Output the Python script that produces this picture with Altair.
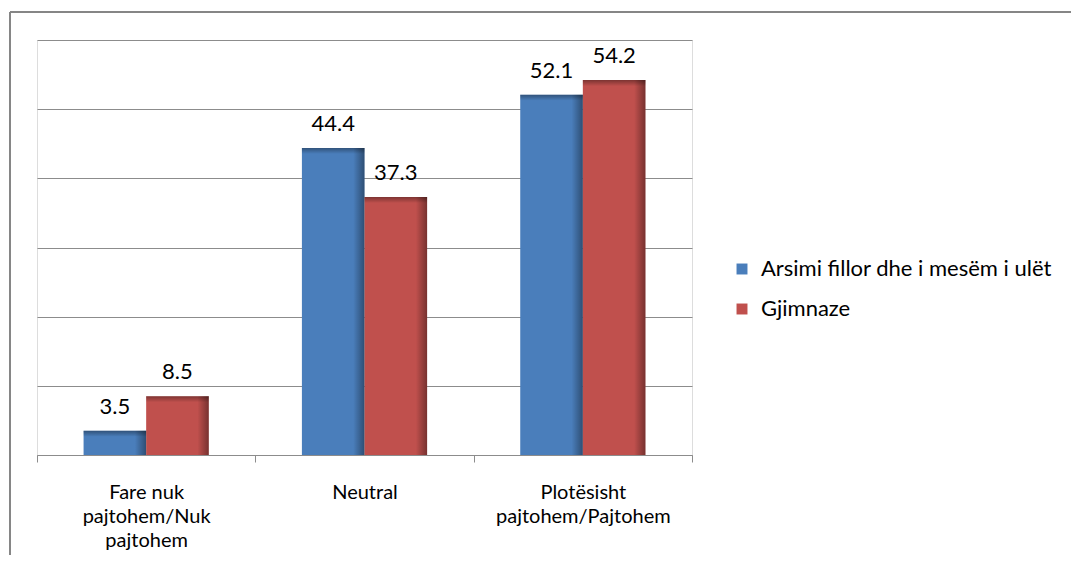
import altair as alt
import pandas as pd

categories = ["Fare nuk\npajtohem/Nuk\npajtohem", "Neutral", "Plotësisht\npajtohem/Pajtohem"]
series = ["Arsimi fillor dhe i mesëm i ulët", "Gjimnaze"]
values_primary = [3.5, 44.4, 52.1]
values_gym = [8.5, 37.3, 54.2]
colors = ["#4a7ebb", "#c0504d"]

rows = []
for c, v in zip(categories, values_primary):
    rows.append({"cat": c, "series": series[0], "value": v})
for c, v in zip(categories, values_gym):
    rows.append({"cat": c, "series": series[1], "value": v})
df = pd.DataFrame(rows)

FONT = "Lato"
FS = 22

x_enc = alt.X("cat:N", sort=categories, title=None,
              scale=alt.Scale(paddingInner=0, paddingOuter=0),
              axis=alt.Axis(labelAngle=0, labelExpr="split(datum.label, '\\n')",
                            tickBand="extent", domainColor="#8c8c8c", tickColor="#8c8c8c",
                            tickSize=7, labelPadding=20, labelFontSize=20, labelLineHeight=24,
                            labelColor="#000000", labelFont=FONT, grid=False,
                            labelBaseline="top", labelLimit=0))
xoff = alt.XOffset("series:N", sort=series, scale=alt.Scale(paddingInner=0, paddingOuter=0.744))
y_enc = alt.Y("value:Q", title=None,
              scale=alt.Scale(domain=[0, 60], nice=False),
              axis=alt.Axis(values=[0, 10, 20, 30, 40, 50, 60], labels=False, ticks=False,
                            domain=False, grid=True, gridColor="#8c8c8c", gridWidth=1.2))

base = alt.Chart(df).encode(x=x_enc, xOffset=xoff)

bars = base.mark_bar().encode(
    y=y_enc,
    color=alt.Color("series:N", sort=series, scale=alt.Scale(domain=series, range=colors),
                    legend=alt.Legend(title=None, orient="none", legendX=694, legendY=218,
                                      symbolType="square", symbolSize=120, labelFontSize=FS,
                                      labelFont=FONT, labelColor="#000000", rowPadding=18,
                                      labelOffset=8, padding=0, symbolStrokeWidth=0,
                                      labelLimit=0)),
)

shade_right = base.mark_bar(color={
    "gradient": "linear", "x1": 0, "x2": 1, "y1": 0, "y2": 0,
    "stops": [{"offset": 0, "color": "rgba(0,0,0,0)"},
              {"offset": 0.82, "color": "rgba(0,0,0,0)"},
              {"offset": 1, "color": "rgba(0,0,0,0.38)"}]}).encode(y=alt.Y("value:Q"))

shade_top = base.mark_bar(y2Offset=6, color={
    "gradient": "linear", "x1": 0, "x2": 0, "y1": 0, "y2": 1,
    "stops": [{"offset": 0, "color": "rgba(0,0,0,0.35)"},
              {"offset": 1, "color": "rgba(0,0,0,0)"}]}).encode(
    y=alt.Y("value:Q"), y2=alt.Y2("value:Q"))

labels = base.mark_text(font=FONT, fontSize=FS, color="#000000", baseline="alphabetic",
                        align="center", dy=-17).encode(
    y=alt.Y("value:Q"), text=alt.Text("value:Q", format=".1f"))

frame_df = pd.DataFrame({"k": [0]})
frame_left = alt.Chart(frame_df).mark_rule(color="#868686", strokeWidth=2).encode(
    x=alt.value(-27), y=alt.value(-28), y2=alt.value(700))
frame_top = alt.Chart(frame_df).mark_rule(color="#868686", strokeWidth=2).encode(
    y=alt.value(-28), x=alt.value(-27), x2=alt.value(1200))

chart = alt.layer(bars, shade_right, shade_top, labels, frame_left, frame_top).properties(
    width=655, height=415,
    autosize=alt.AutoSizeParams(type="none"),
    padding={"left": 29, "top": 32, "right": 379, "bottom": 100},
).configure_view(stroke=None).configure(background="#ffffff")

chart.save("out.html", embed_options={"renderer": "svg", "actions": False})
